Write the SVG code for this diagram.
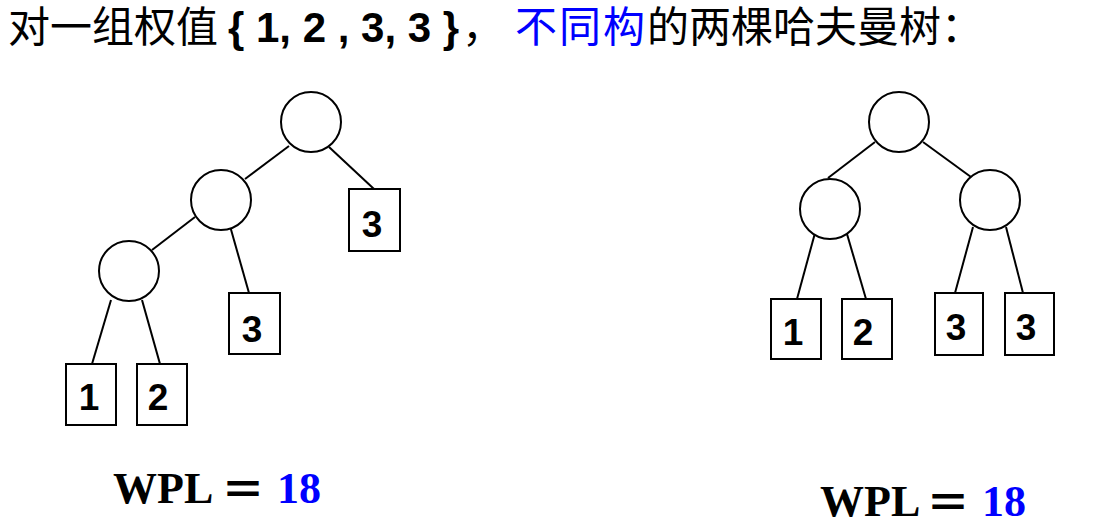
<svg xmlns="http://www.w3.org/2000/svg" width="1096" height="532" viewBox="0 0 1096 532">
<style>
.node{fill:#fff;stroke:#000;stroke-width:2}
.edge{stroke:#000;stroke-width:2;fill:none}
.num{font-family:"Liberation Sans",Arial,sans-serif;font-weight:bold;font-size:37px;text-anchor:middle;fill:#000}
.title{font-family:"Liberation Sans","Noto Sans CJK SC",sans-serif;font-size:42px;fill:#000}
.cjk{font-family:"Noto Sans CJK SC",sans-serif}
.wpl{font-family:"Liberation Serif","Times New Roman",serif;font-weight:bold;font-size:44px;fill:#000}
.eq{font-family:"Noto Sans CJK SC",sans-serif;font-weight:bold;font-size:44px;fill:#000}
.blue{fill:#0000ff}
</style>
<rect width="1096" height="532" fill="#fff"/>
<text class="title" y="42"><tspan x="8" class="cjk">对一组权值</tspan><tspan x="228" font-weight="bold">{ 1, 2 , 3, 3 }</tspan><tspan x="462" class="cjk">，</tspan><tspan x="515" class="cjk blue" letter-spacing="2">不同构</tspan><tspan x="647" class="cjk">的两棵哈夫曼树：</tspan></text>
<g id="connectors">
<line class="edge" x1="289" y1="146" x2="245" y2="179"/>
<line class="edge" x1="329" y1="147" x2="374" y2="189"/>
<line class="edge" x1="195" y1="217" x2="152" y2="250"/>
<line class="edge" x1="230" y1="226" x2="249" y2="293"/>
<line class="edge" x1="111" y1="300" x2="92" y2="364"/>
<line class="edge" x1="142" y1="300" x2="160" y2="364"/>
<line class="edge" x1="875" y1="142" x2="828" y2="178"/>
<line class="edge" x1="923" y1="142" x2="971" y2="177"/>
<line class="edge" x1="815" y1="233" x2="797" y2="299"/>
<line class="edge" x1="847" y1="234" x2="866" y2="299"/>
<line class="edge" x1="973" y1="227" x2="955" y2="293"/>
<line class="edge" x1="1006" y1="227" x2="1023" y2="293"/>
</g>
<g id="L_root"><circle class="node" cx="311" cy="122" r="30"/></g>
<g id="L_n2"><circle class="node" cx="221" cy="200" r="30"/></g>
<g id="L_n3"><circle class="node" cx="129" cy="271" r="30"/></g>
<g id="L_leaf3a"><rect class="node" x="349" y="189" width="51" height="62"/><text class="num" x="372" y="237">3</text></g>
<g id="L_leaf3b"><rect class="node" x="229" y="293" width="51" height="61"/><text class="num" x="252" y="342">3</text></g>
<g id="L_leaf1"><rect class="node" x="66" y="364" width="50" height="61"/><text class="num" x="89" y="410">1</text></g>
<g id="L_leaf2"><rect class="node" x="137" y="364" width="50" height="61"/><text class="num" x="158" y="410">2</text></g>
<g id="R_root"><circle class="node" cx="899" cy="122" r="30"/></g>
<g id="R_left"><circle class="node" cx="830" cy="209" r="30"/></g>
<g id="R_right"><circle class="node" cx="990" cy="200" r="30"/></g>
<g id="R_leaf1"><rect class="node" x="771" y="299" width="50" height="60"/><text class="num" x="793" y="345">1</text></g>
<g id="R_leaf2"><rect class="node" x="842" y="299" width="50" height="60"/><text class="num" x="863" y="345">2</text></g>
<g id="R_leaf3a"><rect class="node" x="935" y="293" width="48" height="62"/><text class="num" x="956" y="340">3</text></g>
<g id="R_leaf3b"><rect class="node" x="1005" y="293" width="49" height="62"/><text class="num" x="1026" y="340">3</text></g>
<g id="wpl_left"><text class="wpl" x="113" y="503">WPL</text><text class="eq" x="221" y="506">＝</text><text class="wpl blue" x="277" y="503">18</text></g>
<g id="wpl_right"><text class="wpl" x="820" y="516">WPL</text><text class="eq" x="926" y="519">＝</text><text class="wpl blue" x="982" y="516">18</text></g>
</svg>
